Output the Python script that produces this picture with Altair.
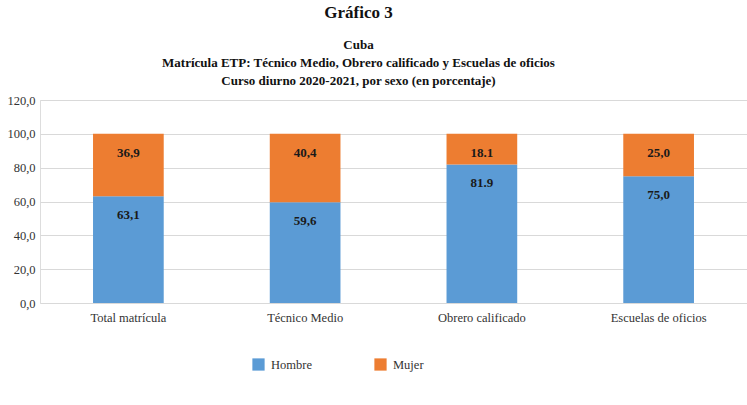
import altair as alt
import pandas as pd

categories = ["Total matrícula", "Técnico Medio", "Obrero calificado", "Escuelas de oficios"]
hombre = [63.1, 59.6, 81.9, 75.0]
mujer = [36.9, 40.4, 18.1, 25.0]
hombre_labels = ["63,1", "59,6", "81.9", "75,0"]
mujer_labels = ["36,9", "40,4", "18.1", "25,0"]
series = ["Hombre", "Mujer"]
colors = ["#5B9BD5", "#ED7D31"]
y_ticks = [0, 20, 40, 60, 80, 100, 120]

rows = []
for i, c in enumerate(categories):
    rows.append({"cat": c, "sexo": "Hombre", "val": hombre[i], "lab": hombre_labels[i], "ord": 0,
                 "top": hombre[i]})
    rows.append({"cat": c, "sexo": "Mujer", "val": mujer[i], "lab": mujer_labels[i], "ord": 1,
                 "top": hombre[i] + mujer[i]})
df = pd.DataFrame(rows)

FONT = "Liberation Serif"

x = alt.X("cat:N", sort=categories, title=None,
          scale=alt.Scale(paddingInner=0.6, paddingOuter=0.3),
          axis=alt.Axis(labelAngle=0, ticks=False, domain=False, labelFont=FONT,
                        labelFontSize=12.5, labelColor="#333333", labelPadding=8))

y_axis = alt.Axis(values=y_ticks, ticks=False, domain=False, labelOverlap=False,
                  labelExpr="replace(format(datum.value, '.1f'), '.', ',')",
                  labelFont=FONT, labelFontSize=12.5, labelColor="#333333",
                  labelPadding=5, gridColor="#d9d9d9", gridWidth=1)
y_scale = alt.Scale(domain=[0, 120])

bars = alt.Chart(df).mark_bar().encode(
    x=x,
    y=alt.Y("val:Q", stack="zero", title=None, scale=y_scale, axis=y_axis),
    color=alt.Color("sexo:N", sort=series,
                    scale=alt.Scale(domain=series, range=colors),
                    legend=alt.Legend(title=None, orient="none", direction="horizontal",
                                      legendX=212, legendY=258, symbolType="square",
                                      symbolSize=150, symbolStrokeWidth=0,
                                      labelFont=FONT, labelFontSize=12.5,
                                      labelColor="#333333", columnPadding=62,
                                      labelOffset=6)),
    order=alt.Order("ord:Q"),
)

texts = alt.Chart(df).mark_text(font=FONT, fontSize=13, fontWeight="bold",
                                color="#1a1a1a", baseline="middle", dy=19).encode(
    x=alt.X("cat:N", sort=categories),
    y=alt.Y("top:Q", title=None, scale=y_scale, axis=y_axis),
    text="lab:N",
)

chart = alt.layer(bars, texts).properties(
    width=707, height=203,
    padding={"left": 40, "top": 100, "right": 0, "bottom": 102},
    autosize=alt.AutoSizeParams(type="none"),
    title=alt.TitleParams(
        text="Gráfico 3",
        subtitle=["Cuba",
                  "Matrícula ETP: Técnico Medio, Obrero calificado y Escuelas de oficios",
                  "Curso diurno 2020-2021, por sexo (en porcentaje)"],
        font=FONT, fontSize=17, fontWeight="bold", color="#111111",
        subtitleFont=FONT, subtitleFontSize=13, subtitleFontWeight="bold",
        subtitleColor="#111111", subtitlePadding=17, subtitleLineHeight=18,
        anchor="middle", dx=-35, offset=5,
    ),
).configure_view(stroke=None).configure(background="white")

chart.save("out.html", embed_options={"renderer": "svg", "actions": False})
